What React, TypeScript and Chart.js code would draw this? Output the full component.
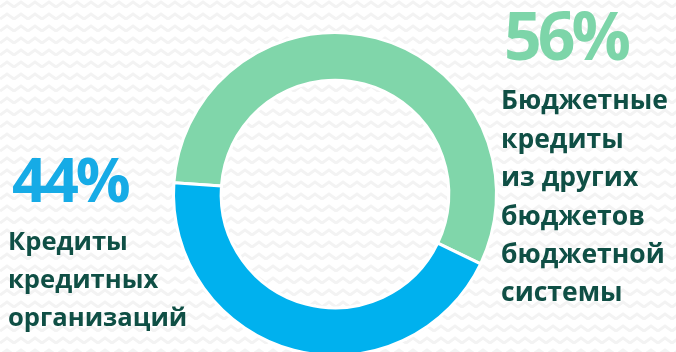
import React, { useEffect, useRef } from "react";
import { Chart, registerables } from "chart.js";

Chart.register(...registerables);

const categories = ["Бюджетные кредиты из других бюджетов бюджетной системы", "Кредиты кредитных организаций"];
const shares = [56, 44];
const colors = ["#80d6aa", "#00b1ee"];
const rightLines = ["Бюджетные", "кредиты", "из других", "бюджетов", "бюджетной", "системы"];
const leftLines = ["Кредиты", "кредитных", "организаций"];
const rightLabel = "56%";
const leftLabel = "44%";

const FONT = "'Open Sans', 'Noto Sans', sans-serif";
const TEXT = "#0f4f45";

export default function App() {
  const ref = useRef<HTMLCanvasElement>(null);
  const bgRef = useRef<HTMLCanvasElement>(null);

  useEffect(() => {
    const bg = bgRef.current;
    if (bg) {
      const ctx = bg.getContext("2d");
      if (ctx) {
        ctx.fillStyle = "#ffffff";
        ctx.fillRect(0, 0, 676, 352);
        ctx.strokeStyle = "#f3f3f3";
        ctx.lineWidth = 3;
        for (let y = 4; y < 360; y += 12) {
          ctx.beginPath();
          for (let x = -14; x < 700; x += 14) {
            ctx.moveTo(x, y + 3);
            ctx.lineTo(x + 7, y - 2);
            ctx.lineTo(x + 14, y + 3);
          }
          ctx.stroke();
        }
      }
    }
    if (!ref.current) return;
    const chart = new Chart(ref.current, {
      type: "doughnut",
      data: {
        labels: categories,
        datasets: [
          {
            data: shares,
            backgroundColor: colors,
            borderColor: "#ffffff",
            borderWidth: 3,
            hoverOffset: 0,
          },
        ],
      },
      options: {
        responsive: false,
        animation: false,
        rotation: -86,
        radius: 161.5,
        cutout: "70.5%",
        layout: { padding: 0 },
        plugins: { legend: { display: false }, tooltip: { enabled: false } },
      },
    });
    return () => chart.destroy();
  }, []);

  const lineStyle: React.CSSProperties = {
    position: "absolute",
    fontFamily: FONT,
    fontWeight: 700,
    color: TEXT,
    whiteSpace: "nowrap",
    margin: 0,
  };

  return (
    <div style={{ position: "fixed", left: 0, top: 0, width: 676, height: 352, overflow: "hidden", background: "#fff" }}>
      <canvas ref={bgRef} width={676} height={352} style={{ position: "absolute", left: 0, top: 0 }} />
      <canvas ref={ref} width={400} height={400} style={{ position: "absolute", left: 135, top: -6, width: 400, height: 400 }} />
      <div style={{ ...lineStyle, left: 504, top: 60 - 0.888 * 66, fontSize: 66, lineHeight: "66px", color: "#7dd5a9", letterSpacing: -4 }}>{rightLabel}</div>
      {rightLines.map((t, i) => (
        <div key={t} style={{ ...lineStyle, left: 501, top: 110 + i * 38.4 - 0.888 * 26.5, fontSize: 26.5, lineHeight: "26.5px" }}>{t}</div>
      ))}
      <div style={{ ...lineStyle, left: 12, top: 202 - 0.888 * 61, fontSize: 61, lineHeight: "61px", color: "#16abe6", letterSpacing: -3 }}>{leftLabel}</div>
      {leftLines.map((t, i) => (
        <div key={t} style={{ ...lineStyle, left: 8, top: 251 + i * 38 - 0.888 * 25.6, fontSize: 25.6, lineHeight: "25.6px" }}>{t}</div>
      ))}
    </div>
  );
}
